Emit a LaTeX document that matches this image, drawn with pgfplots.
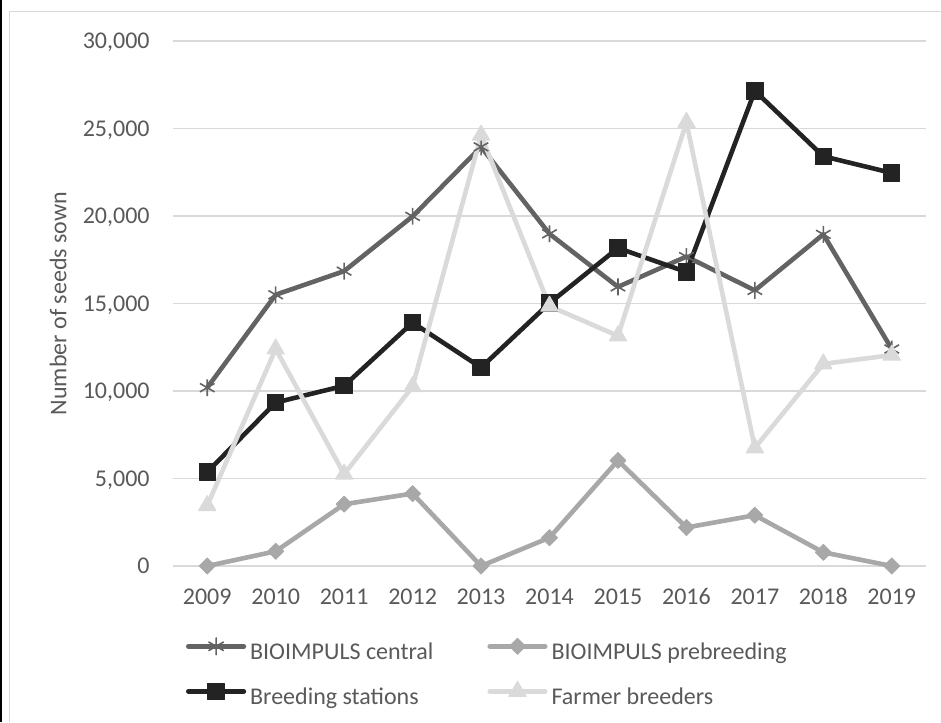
\documentclass[border=0pt]{standalone}
\usepackage{pgfplots}
\pgfplotsset{compat=1.18}
\usepackage{fontspec}
\setmainfont{Carlito}
\definecolor{txt}{HTML}{595959}
\definecolor{gridc}{HTML}{D9D9D9}
\definecolor{cCentral}{HTML}{636363}
\definecolor{cPre}{HTML}{A8A8A8}
\definecolor{cBreed}{HTML}{232323}
\definecolor{cFarm}{HTML}{DADADA}
\begin{document}
\begin{tikzpicture}
\useasboundingbox (0,0) rectangle (470.5pt,361pt);
\fill[black] (0,0) rectangle (1pt,361pt);
\draw[gridc, line width=0.75pt] (4.7pt,0) -- (4.7pt,355.3pt) -- (470.5pt,355.3pt);
\begin{axis}[
  at={(86.5pt,78pt)}, anchor=south west,
  scale only axis, width=376.5pt, height=262.5pt,
  xmin=-0.5, xmax=10.5, ymin=0, ymax=30000,
  clip=false,
  axis line style={draw=none},
  major tick length=0pt,
  xtick={0,...,10},
  xticklabels={2009,2010,2011,2012,2013,2014,2015,2016,2017,2018,2019},
  ytick={0,5000,10000,15000,20000,25000,30000},
  scaled y ticks=false,
  ymajorgrids, xmajorgrids=false,
  major grid style={draw=gridc, line width=0.75pt},
  tick label style={font=\fontsize{12}{14}\selectfont, text=txt, inner sep=0pt},
  y tick label style={anchor=base east, xshift=-11.5pt, yshift=-3.8pt,
     /pgf/number format/.cd, fixed, 1000 sep={,}, assume math mode=true},
  x tick label style={anchor=base, yshift=-19pt},
  every axis y label/.style={at={(axis description cs:-0.1527,0.5)}, rotate=90, anchor=center,
     font=\fontsize{12}{14}\selectfont, text=txt},
  ylabel={Number of seeds sown},
  legend columns=2,
  legend cell align=left,
  legend style={at={(axis description cs:0.0173,-0.137)}, anchor=north west,
     draw=none, fill=none, inner sep=0pt, outer sep=0pt,
     font=\fontsize{12}{14}\selectfont, text=txt,
     nodes={inner sep=0pt, text height=9pt, text depth=3pt},
     column sep=2pt, row sep=8pt,
     /tikz/every even column/.append style={column sep=27pt}},
  legend image code/.code={\draw[mark repeat=2, mark phase=2, line cap=round, #1]
     plot coordinates {(0pt,3.5pt) (13.9pt,3.5pt) (27.75pt,3.5pt)};},
  every axis plot/.append style={line width=2.3pt, line join=round},
]
\addplot[cCentral, mark=asterisk, mark size=4.2pt, mark options={line width=0.8pt, solid}]
  coordinates {(0,10190) (1,15500) (2,16850) (3,19980) (4,23950) (5,18980) (6,15950) (7,17680) (8,15750) (9,18950) (10,12400)};
\addlegendentry{BIOIMPULS central}
\addplot[cPre, mark=square*, mark size=2.8pt, mark options={rotate=45, line width=0.5pt, solid}]
  coordinates {(0,0) (1,840) (2,3530) (3,4140) (4,0) (5,1620) (6,6030) (7,2200) (8,2900) (9,780) (10,0)};
\addlegendentry{BIOIMPULS prebreeding}
\addplot[cBreed, mark=square*, mark size=4.1pt, mark options={line width=0.5pt, solid}]
  coordinates {(0,5370) (1,9340) (2,10300) (3,13910) (4,11340) (5,15020) (6,18170) (7,16800) (8,27150) (9,23410) (10,22460)};
\addlegendentry{Breeding stations}
\addplot[cFarm, mark=triangle*, mark size=5pt, mark options={line width=0.5pt, solid}]
  coordinates {(0,3450) (1,12400) (2,5250) (3,10250) (4,24620) (5,14850) (6,13150) (7,25350) (8,6750) (9,11550) (10,12050)};
\addlegendentry{Farmer breeders}
\end{axis}
\end{tikzpicture}
\end{document}
